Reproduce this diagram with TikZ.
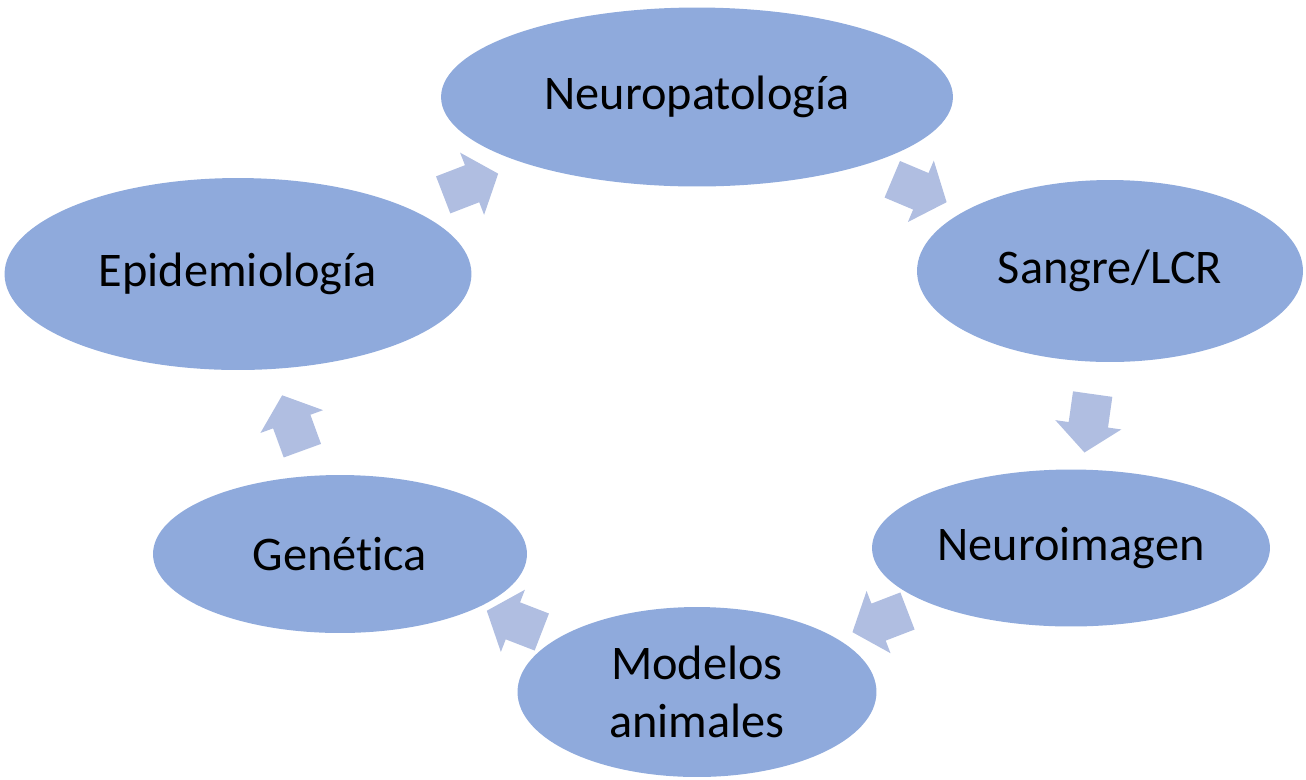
\documentclass[tikz,border=0pt]{standalone}
\usepackage{fontspec}
\setmainfont[Ligatures=NoCommon]{Carlito}
\usetikzlibrary{shapes.geometric,shapes.arrows}
\definecolor{elipsecol}{HTML}{8FAADC}
\definecolor{flechacol}{HTML}{B0BEE1}

\begin{document}
\begin{tikzpicture}[x=0.02cm,y=-0.02cm,
	area/.style={ellipse, fill=elipsecol, inner sep=0pt, align=center, font=\fontsize{27.5}{33}\selectfont},
	flecha/.style={single arrow, fill=flechacol, inner sep=0pt, inner ysep=0.39cm, minimum height=1.18cm, single arrow head extend=0.27cm, single arrow tip angle=100, sloped, allow upside down}]
	\useasboundingbox (0,0) rectangle (1306,779);
	\node[area, minimum width=10.24cm, minimum height=3.58cm] (neuro) at (697,97) {Neuropatología};
	\node[area, minimum width=7.72cm, minimum height=3.64cm] (sangre) at (1110,271) {Sangre/LCR};
	\node[area, minimum width=7.96cm, minimum height=3.14cm] (imagen) at (1071,548) {Neuroimagen};
	\node[area, minimum width=7.18cm, minimum height=3.4cm] (modelos) at (697,692) {Modelos\\animales};
	\node[area, minimum width=7.48cm, minimum height=3.16cm] (genetica) at (340,554) {Genética};
	\node[area, minimum width=9.34cm, minimum height=3.84cm] (epi) at (238,274) {Epidemiología};
	
	\path (epi.center) -- (neuro.center) node[flecha, pos=0.49] {};
	\path (neuro.center) -- (sangre.center) node[flecha, pos=0.52] {};
	\path (sangre.center) -- (imagen.center) node[flecha, pos=0.52] {};
	\path (imagen.center) -- (modelos.center) node[flecha, pos=0.49] {};
	\path (modelos.center) -- (genetica.center) node[flecha, pos=0.49] {};
	\path (genetica.center) -- (epi.center) node[flecha, pos=0.44] {};
\end{tikzpicture}
\end{document}
